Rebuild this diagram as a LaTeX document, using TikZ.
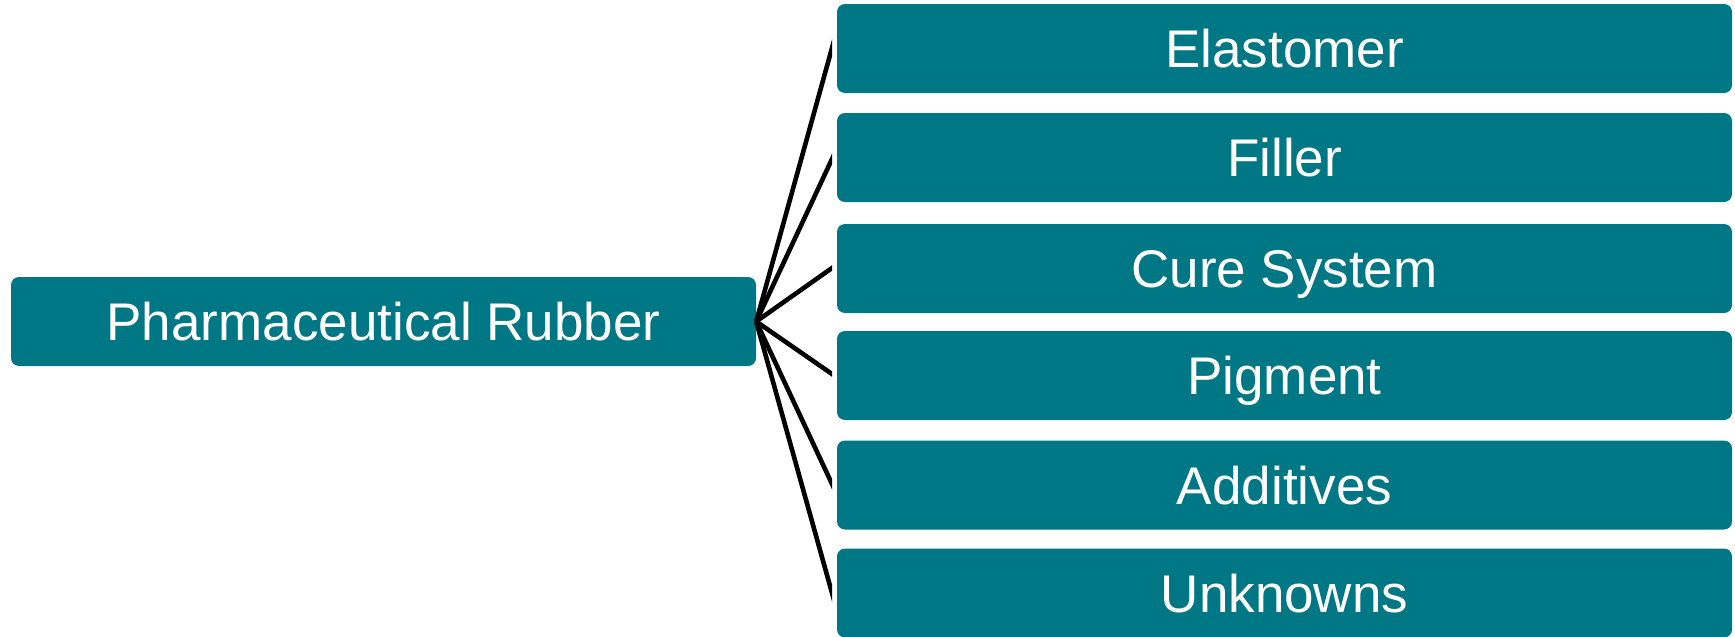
\documentclass[tikz,border=0pt]{standalone}
\usepackage{fontspec}
\setmainfont{Liberation Sans}
\usetikzlibrary{calc}
\definecolor{teal}{HTML}{007784}
\tikzset{
  box/.style={rectangle, rounded corners=8pt, fill=teal, text=white,
    font=\fontsize{53}{60}\selectfont, text height=38pt, text depth=0pt,
    inner sep=0pt, minimum height=89pt},
  rootbox/.style={box, minimum width=745pt},
  leafbox/.style={box, minimum width=895pt},
  link/.style={line width=4.6pt, black, line cap=butt}
}
\begin{document}
\begin{tikzpicture}[x=1pt,y=-1pt]
\useasboundingbox (0,0) rectangle (1735,637);
\node[rootbox] (root) at (383.5,321.5) {Pharmaceutical Rubber};
\node[leafbox] (n1) at (1284.5,48.5) {Elastomer};
\node[leafbox] (n2) at (1284.5,157.5) {Filler};
\node[leafbox] (n3) at (1284.5,268.5) {Cure System};
\node[leafbox] (n4) at (1284.5,375.5) {Pigment};
\node[leafbox] (n5) at (1284.5,485) {Additives};
\node[leafbox] (n6) at (1284.5,593) {Unknowns};
\coordinate (e1) at (832,48);
\coordinate (e2) at (832,159);
\coordinate (e3) at (832,268);
\coordinate (e4) at (832,374);
\coordinate (e5) at (832,484);
\coordinate (e6) at (832,593);
\begin{scope}
\clip (700,0) rectangle (832,637);
\foreach \i in {1,...,6}{
  \draw[link] (root.east) -- ($(root.east)!1.15!(e\i)$);
}
\end{scope}
\end{tikzpicture}
\end{document}
